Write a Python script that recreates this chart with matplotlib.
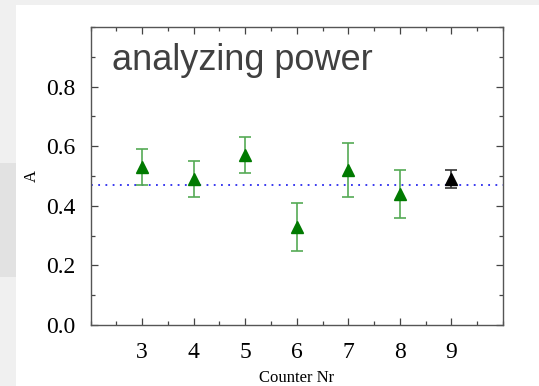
import matplotlib.pyplot as plt
import numpy as np
from matplotlib.patches import Rectangle
from matplotlib.ticker import MultipleLocator

counters = [3, 4, 5, 6, 7, 8]
asym = [0.53, 0.49, 0.57, 0.33, 0.52, 0.44]
asym_err = [0.06, 0.06, 0.06, 0.08, 0.09, 0.08]

combined_x = [9]
combined = [0.49]
combined_err = [0.03]

mean_A = 0.47

fig = plt.figure(figsize=(5.39, 3.86), dpi=100)
fig.patch.set_facecolor('#f0f0f0')
# slide background pieces
fig.patches.append(Rectangle((16/539, 0), 1, 1 - 5/386, transform=fig.transFigure,
                             facecolor='white', edgecolor='none', zorder=-10))
fig.patches.append(Rectangle((0, 1 - 277/386), 16/539, 114/386, transform=fig.transFigure,
                             facecolor='#e2e2e2', edgecolor='none', zorder=-10))

ax = fig.add_axes([90.5/539, 1 - 325/386, (503 - 90.5)/539, (325 - 27)/386])

ax.axhline(mean_A, color='#2a2aee', linestyle=(0, (1, 3)), linewidth=1.3, zorder=1)

ax.errorbar(counters, asym, yerr=asym_err, fmt='^', color='#007a00', markersize=8.5,
            ecolor='#55aa55', elinewidth=1.2, capsize=4, capthick=1.2, zorder=3)
ax.errorbar(combined_x, combined, yerr=combined_err, fmt='^', color='black', markersize=8.5,
            ecolor='#333333', elinewidth=1.2, capsize=4, capthick=1.2, zorder=3)

ax.set_xlim(2, 10)
ax.set_ylim(0, 1.0)
ax.set_xticks([3, 4, 5, 6, 7, 8, 9])
ax.set_yticks([0.0, 0.2, 0.4, 0.6, 0.8])
ax.set_yticklabels(['0.0', '0.2', '0.4', '0.6', '0.8'])
ax.xaxis.set_minor_locator(MultipleLocator(0.5))
ax.yaxis.set_minor_locator(MultipleLocator(0.1))
ax.tick_params(which='both', direction='in', top=True, right=True, color='#444444')
ax.tick_params(which='major', length=5, width=0.9, labelsize=17)
ax.tick_params(axis='x', which='major', pad=12)
ax.tick_params(axis='y', which='major', pad=11)
ax.tick_params(which='minor', length=3, width=0.9)
for lab in ax.get_xticklabels() + ax.get_yticklabels():
    lab.set_family('Liberation Serif')
for s in ax.spines.values():
    s.set_color('#555555')
    s.set_linewidth(1.0)

ax.set_xlabel('Counter Nr', family='Liberation Serif', fontsize=12, labelpad=5)
ax.set_ylabel('A', family='Liberation Serif', fontsize=12, labelpad=4)

ax.text(0.053, 0.945, 'analyzing power', transform=ax.transAxes, ha='left', va='top',
        family='Liberation Sans', fontsize=26, color='#404040')

fig.savefig('out.png', dpi=100, facecolor=fig.get_facecolor())
